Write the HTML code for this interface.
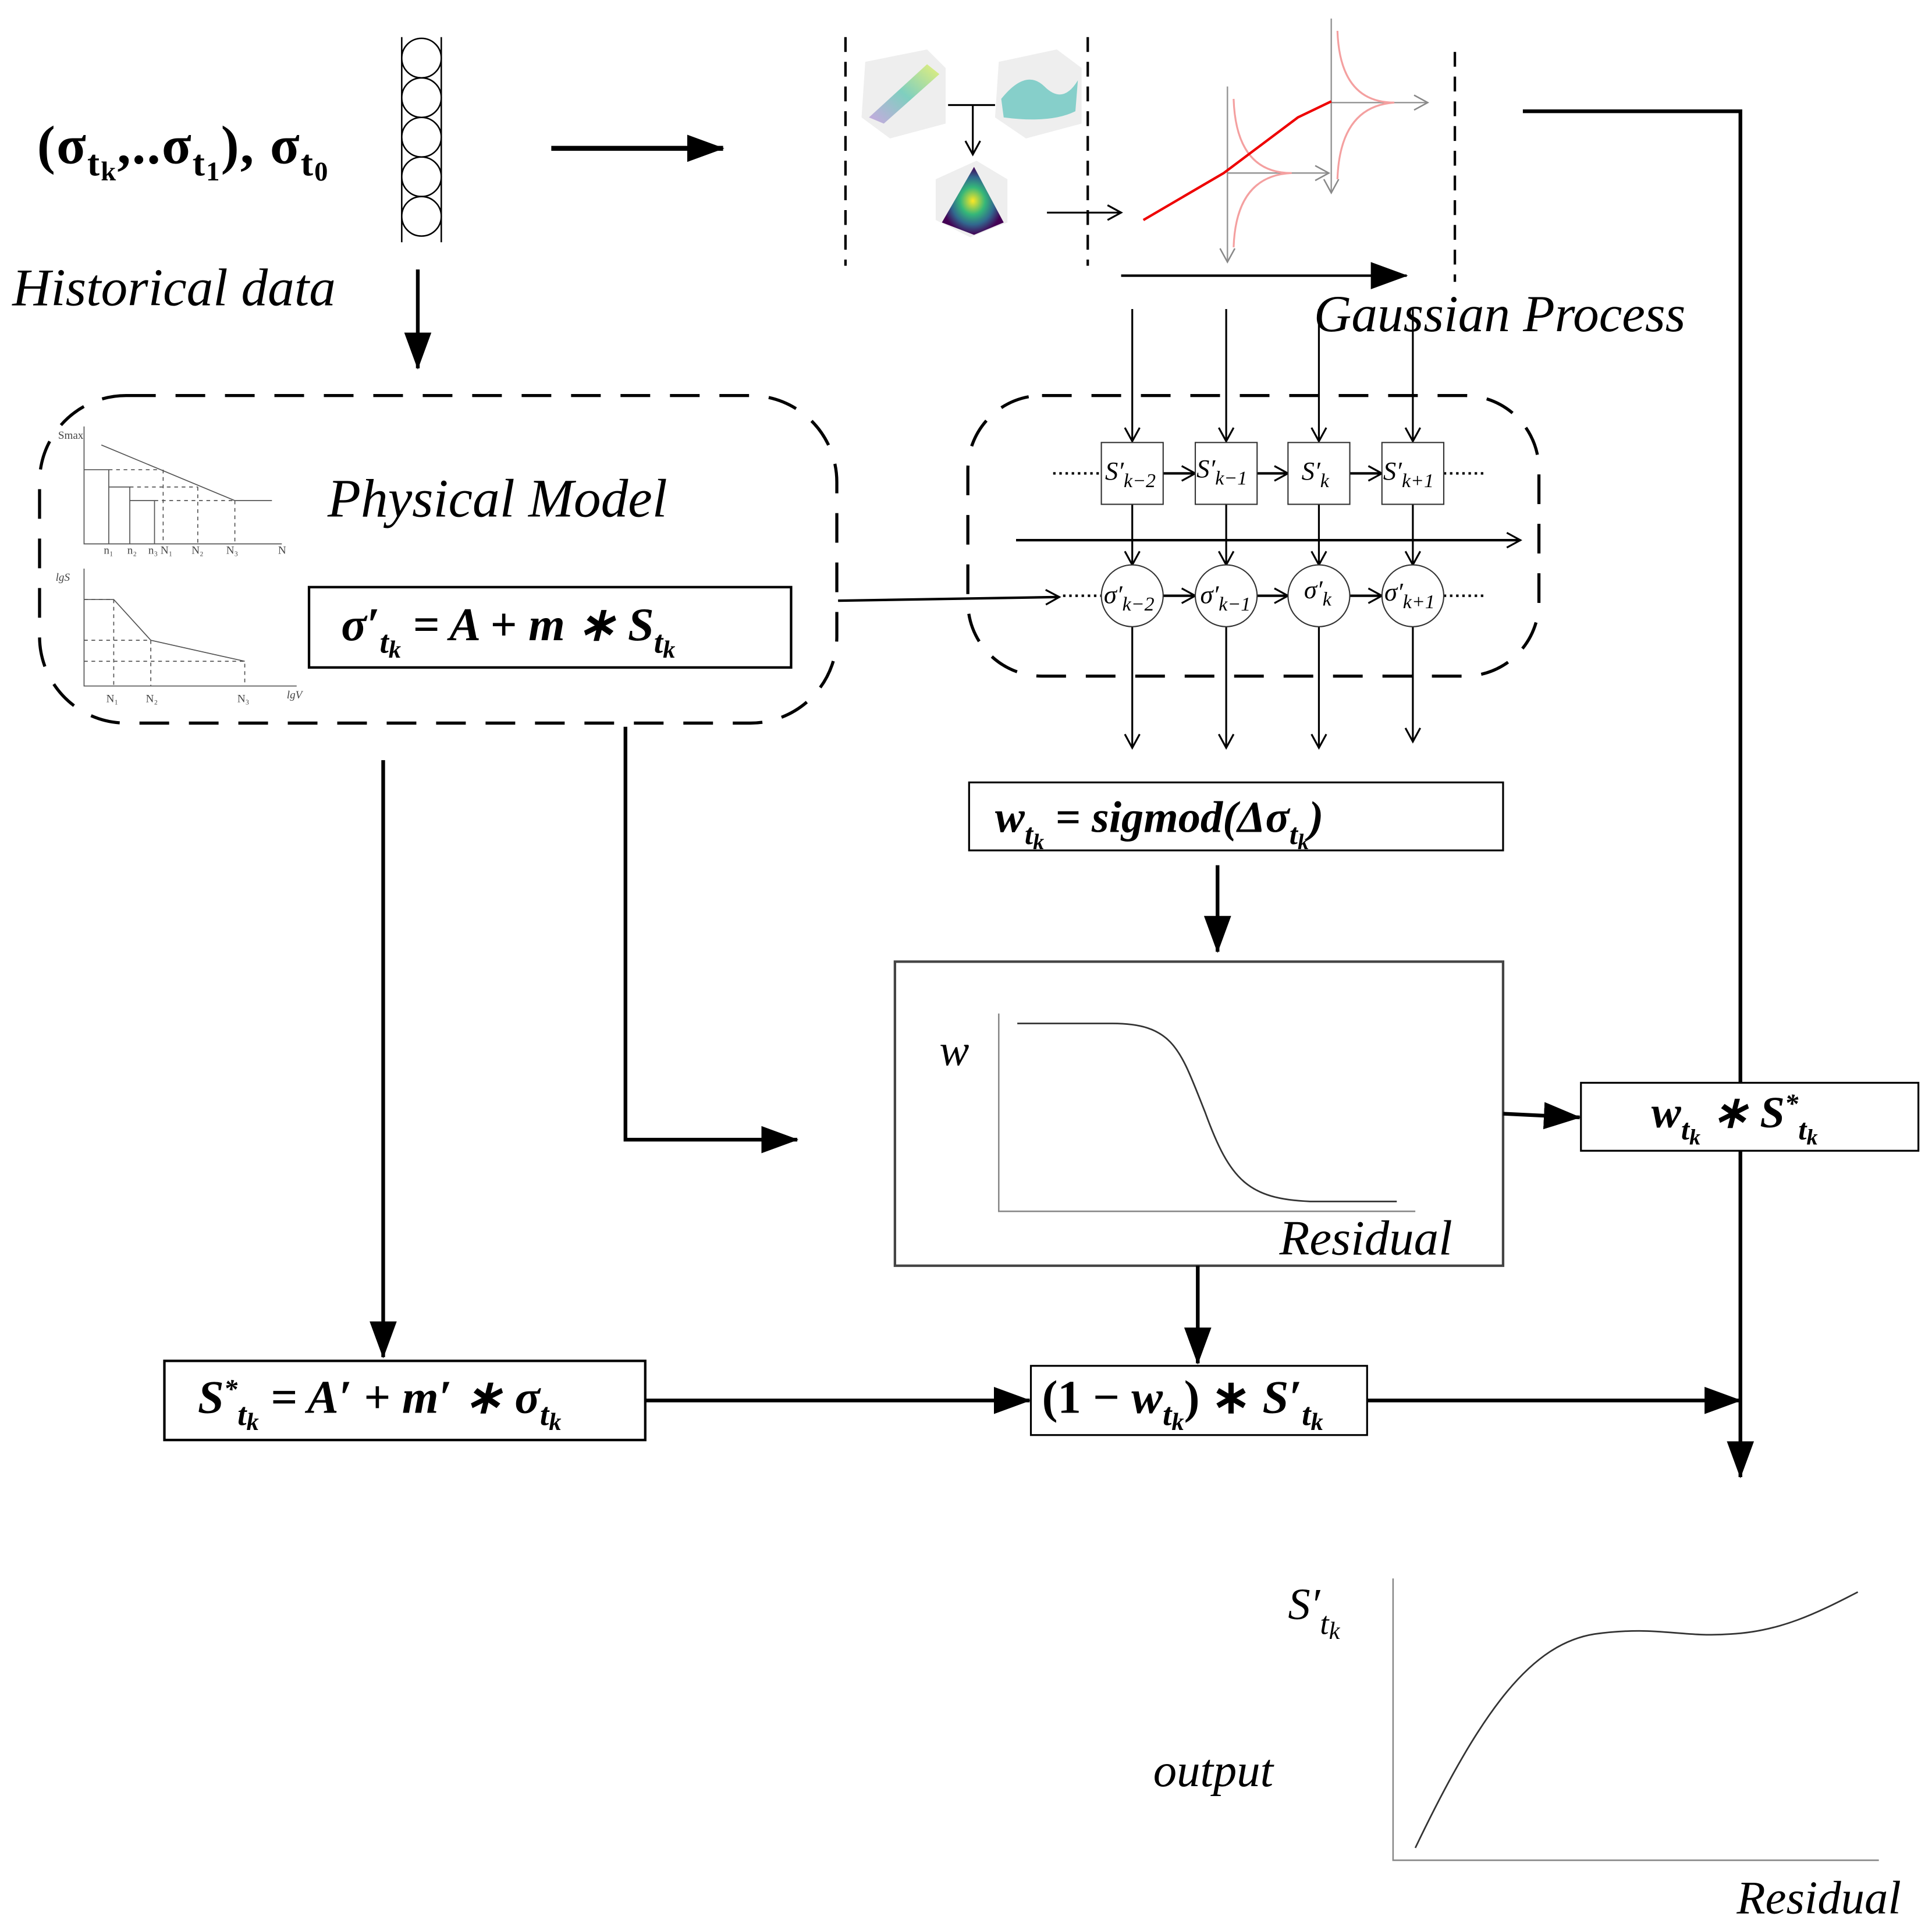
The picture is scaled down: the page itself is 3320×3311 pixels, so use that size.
<!DOCTYPE html>
<html><head><meta charset="utf-8"><style>
html,body{margin:0;padding:0;background:#fff}
svg{display:block}
text{font-family:"Liberation Serif",serif}
.b{font-weight:bold}
.bi{font-weight:bold;font-style:italic}
.i{font-style:italic}
</style></head><body>
<svg width="3320" height="3311" viewBox="0 0 1563 1559" preserveAspectRatio="none" xmlns="http://www.w3.org/2000/svg">
<defs>
<marker id="ah" markerWidth="10" markerHeight="10" refX="9" refY="5" orient="auto" markerUnits="userSpaceOnUse" viewBox="0 0 10 10"><path d="M0,0 L10,5 L0,10z" fill="#000"/></marker>
<marker id="ahb" markerWidth="30" markerHeight="22" refX="29" refY="11" orient="auto" markerUnits="userSpaceOnUse" viewBox="0 0 30 22"><path d="M0,0 L30,11 L0,22z" fill="#000"/></marker>
<marker id="ao" markerWidth="14" markerHeight="14" refX="12" refY="7" orient="auto" markerUnits="userSpaceOnUse" viewBox="0 0 14 14"><path d="M1,1 L12,7 L1,13" fill="none" stroke="#000" stroke-width="1.5"/></marker>
<marker id="aog" markerWidth="14" markerHeight="14" refX="12" refY="7" orient="auto" markerUnits="userSpaceOnUse" viewBox="0 0 14 14"><path d="M1,1 L12,7 L1,13" fill="none" stroke="#888" stroke-width="1.2"/></marker>
<linearGradient id="g1" x1="0" y1="1" x2="1" y2="0"><stop offset="0" stop-color="#c9a8e0"/><stop offset="0.5" stop-color="#7fcfbf"/><stop offset="1" stop-color="#e6f07a"/></linearGradient>
<radialGradient id="g2"><stop offset="0" stop-color="#fde725"/><stop offset="0.4" stop-color="#35b779"/><stop offset="0.7" stop-color="#31688e"/><stop offset="1" stop-color="#440154"/></radialGradient>
</defs>

<text x="30" y="132" class="b" font-size="44" letter-spacing="1">(σ<tspan font-size="30" dy="10">t</tspan><tspan font-size="22" dy="4">k</tspan><tspan dy="-14">,..σ</tspan><tspan font-size="30" dy="10">t</tspan><tspan font-size="22" dy="4">1</tspan><tspan dy="-14">),  σ</tspan><tspan font-size="30" dy="10">t</tspan><tspan font-size="22" dy="4">0</tspan></text>
<g fill="#fff" stroke="#000" stroke-width="1.2">
<line x1="325" y1="30" x2="325" y2="196"/><line x1="357" y1="30" x2="357" y2="196"/>
<circle cx="341" cy="47" r="16"/><circle cx="341" cy="79" r="16"/><circle cx="341" cy="111" r="16"/><circle cx="341" cy="143" r="16"/><circle cx="341" cy="175" r="16"/>
</g>
<text x="10" y="247" class="i" font-size="43">Historical data</text>
<line x1="338" y1="218" x2="338" y2="298" stroke="#000" stroke-width="3" marker-end="url(#ahb)"/>
<line x1="446" y1="120" x2="585" y2="120" stroke="#000" stroke-width="4" marker-end="url(#ahb)"/>

<g stroke="#000" stroke-width="2" stroke-dasharray="12,8">
<line x1="684" y1="30" x2="684" y2="215"/><line x1="880" y1="30" x2="880" y2="215"/><line x1="1177" y1="42" x2="1177" y2="228"/>
</g>
<polygon points="700,50 750,40 765,55 765,100 720,112 697,95" fill="#eee"/>
<polygon points="703,95 750,52 760,60 715,100" fill="url(#g1)"/>
<polygon points="808,50 855,40 875,55 875,100 830,112 805,95" fill="#eee"/>
<path d="M810,80 Q830,55 845,70 Q860,85 872,65 L870,90 Q850,100 812,95z" fill="#6cc7c0" opacity="0.8"/>
<polygon points="757,145 790,130 815,145 815,180 785,192 757,178" fill="#eee"/>
<path d="M762,180 L788,135 L812,180 L788,190z" fill="url(#g2)"/>
<path d="M767,85 L805,85 M787,85 L787,125" stroke="#000" stroke-width="1.5" fill="none" marker-end="url(#ao)"/>
<line x1="847" y1="172" x2="907" y2="172" stroke="#000" stroke-width="1.5" marker-end="url(#ao)"/>
<line x1="993" y1="70" x2="993" y2="212" stroke="#999" stroke-width="1.2" marker-end="url(#aog)"/>
<line x1="1077" y1="15" x2="1077" y2="156" stroke="#999" stroke-width="1.2" marker-end="url(#aog)"/>
<line x1="993" y1="140" x2="1075" y2="140" stroke="#999" stroke-width="1.2" marker-end="url(#aog)"/>
<line x1="1077" y1="83" x2="1155" y2="83" stroke="#999" stroke-width="1.2" marker-end="url(#aog)"/>
<path d="M998,80 Q1000,140 1045,140 Q1000,142 998,200" stroke="#f4a0a0" fill="none" stroke-width="1.5"/>
<path d="M1082,25 Q1084,83 1128,83 Q1084,86 1082,145" stroke="#f4a0a0" fill="none" stroke-width="1.5"/>
<path d="M925,178 L990,140 Q1030,110 1050,95 L1077,82" stroke="#e00" fill="none" stroke-width="2"/>
<line x1="907" y1="223" x2="1138" y2="223" stroke="#000" stroke-width="2" marker-end="url(#ahb)"/>
<text x="1063" y="268" class="i" font-size="42">Gaussian Process</text>
<path d="M1232,90 L1408,90 L1408,1195" stroke="#000" stroke-width="3" fill="none" marker-end="url(#ahb)"/>

<rect x="783" y="320" width="462" height="227" rx="60" fill="none" stroke="#000" stroke-width="2.5" stroke-dasharray="24,16"/>
<g stroke="#000" stroke-width="1.5" fill="none">
<line x1="916" y1="250" x2="916" y2="357" marker-end="url(#ao)"/>
<line x1="992" y1="250" x2="992" y2="357" marker-end="url(#ao)"/>
<line x1="1067" y1="250" x2="1067" y2="357" marker-end="url(#ao)"/>
<line x1="1143" y1="250" x2="1143" y2="357" marker-end="url(#ao)"/>
<line x1="916" y1="408" x2="916" y2="457" marker-end="url(#ao)"/>
<line x1="992" y1="408" x2="992" y2="457" marker-end="url(#ao)"/>
<line x1="1067" y1="408" x2="1067" y2="457" marker-end="url(#ao)"/>
<line x1="1143" y1="408" x2="1143" y2="457" marker-end="url(#ao)"/>
<line x1="916" y1="507" x2="916" y2="605" marker-end="url(#ao)"/>
<line x1="992" y1="507" x2="992" y2="605" marker-end="url(#ao)"/>
<line x1="1067" y1="507" x2="1067" y2="605" marker-end="url(#ao)"/>
<line x1="1143" y1="507" x2="1143" y2="600" marker-end="url(#ao)"/>
<line x1="822" y1="437" x2="1230" y2="437" stroke-width="2" marker-end="url(#ao)"/>
<line x1="941" y1="383" x2="967" y2="383" stroke-width="2" marker-end="url(#ao)"/>
<line x1="1017" y1="383" x2="1042" y2="383" stroke-width="2" marker-end="url(#ao)"/>
<line x1="1092" y1="383" x2="1118" y2="383" stroke-width="2" marker-end="url(#ao)"/>
<line x1="941" y1="482" x2="967" y2="482" stroke-width="2" marker-end="url(#ao)"/>
<line x1="1017" y1="482" x2="1042" y2="482" stroke-width="2" marker-end="url(#ao)"/>
<line x1="1092" y1="482" x2="1118" y2="482" stroke-width="2" marker-end="url(#ao)"/>
<line x1="678" y1="486" x2="857" y2="483" stroke-width="2" marker-end="url(#ao)"/>
<g stroke-dasharray="2,3" stroke-width="2">
<line x1="852" y1="383" x2="891" y2="383"/><line x1="1168" y1="383" x2="1203" y2="383"/>
<line x1="860" y1="482" x2="891" y2="482"/><line x1="1168" y1="482" x2="1203" y2="482"/>
</g>
</g>
<g fill="#fff" stroke="#333" stroke-width="1">
<rect x="891" y="358" width="50" height="50"/><rect x="967" y="358" width="50" height="50"/><rect x="1042" y="358" width="50" height="50"/><rect x="1118" y="358" width="50" height="50"/>
<ellipse cx="916" cy="482" rx="25" ry="25"/><ellipse cx="992" cy="482" rx="25" ry="25"/><ellipse cx="1067" cy="482" rx="25" ry="25"/><ellipse cx="1143" cy="482" rx="25" ry="25"/>
</g>
<g font-size="21">
<text x="894" y="388" class="i">S′<tspan font-size="16" dy="6">k−2</tspan></text>
<text x="968" y="386" class="i">S′<tspan font-size="16" dy="6">k−1</tspan></text>
<text x="1053" y="388" class="i">S′<tspan font-size="16" dy="6">k</tspan></text>
<text x="1119" y="388" class="i">S′<tspan font-size="16" dy="6">k+1</tspan></text>
<text x="893" y="488" class="i">σ′<tspan font-size="16" dy="6">k−2</tspan></text>
<text x="971" y="488" class="i">σ′<tspan font-size="16" dy="6">k−1</tspan></text>
<text x="1055" y="484" class="i">σ′<tspan font-size="16" dy="6">k</tspan></text>
<text x="1120" y="486" class="i">σ′<tspan font-size="16" dy="6">k+1</tspan></text>
</g>

<rect x="32" y="320" width="645" height="265" rx="70" fill="none" stroke="#000" stroke-width="2.5" stroke-dasharray="24,16"/>
<g stroke="#555" stroke-width="0.8" fill="none">
<path d="M68,345 L68,440 L228,440"/>
<path d="M82,360 L190,405 L220,405"/>
<path d="M68,380 L88,380 L88,440 M88,394 L105,394 L105,440 M105,405 L125,405 L125,440"/>
<path d="M88,380 L130,380 M105,394 L160,394 M125,405 L190,405 M132,380 L132,440 M160,394 L160,440 M190,405 L190,440" stroke-dasharray="3,3"/>
<path d="M68,460 L68,555 L240,555"/>
<path d="M68,485 L92,485 L122,518 L198,535"/>
<path d="M68,485 L92,485 L92,555 M68,518 L122,518 L122,555 M68,535 L198,535 L198,555" stroke-dasharray="3,3"/>
</g>
<g font-size="9" fill="#444" font-family="Liberation Serif">
<text x="47" y="355">Smax</text><text x="84" y="448">n₁</text><text x="103" y="448">n₂</text><text x="120" y="448">n₃ N₁</text><text x="155" y="448">N₂</text><text x="183" y="448">N₃</text><text x="225" y="448">N</text>
<text x="45" y="470" font-style="italic">lgS</text><text x="86" y="568">N₁</text><text x="118" y="568">N₂</text><text x="192" y="568">N₃</text><text x="232" y="565" font-style="italic">lgV</text>
</g>
<text x="265" y="418" class="i" font-size="44">Physical Model</text>
<rect x="250" y="475" width="390" height="65" fill="#fff" stroke="#000" stroke-width="2"/>
<text x="276" y="518" class="bi" font-size="38">σ′<tspan font-size="26" dy="10">t</tspan><tspan font-size="20" dy="4">k</tspan><tspan dy="-14"> = A + m ∗ S</tspan><tspan font-size="26" dy="10">t</tspan><tspan font-size="20" dy="4">k</tspan></text>

<line x1="310" y1="615" x2="310" y2="1098" stroke="#000" stroke-width="3" marker-end="url(#ahb)"/>
<path d="M506,588 L506,922 L645,922" stroke="#000" stroke-width="3" fill="none" marker-end="url(#ahb)"/>
<rect x="784" y="633" width="432" height="55" fill="#fff" stroke="#000" stroke-width="1.5"/>
<text x="805" y="673" class="bi" font-size="36">w<tspan font-size="24" dy="10">t</tspan><tspan font-size="18" dy="4">k</tspan><tspan dy="-14"> = sigmod(Δσ</tspan><tspan font-size="24" dy="10">t</tspan><tspan font-size="18" dy="4">k</tspan><tspan dy="-14">)</tspan></text>
<line x1="985" y1="700" x2="985" y2="770" stroke="#000" stroke-width="3" marker-end="url(#ahb)"/>
<rect x="724" y="778" width="492" height="246" fill="#fff" stroke="#444" stroke-width="2"/>
<path d="M808,820 L808,980 L1145,980" stroke="#888" stroke-width="1.2" fill="none"/>
<path d="M823,828 L900,828 C950,828 955,850 975,900 C995,955 1010,970 1060,972 L1130,972" stroke="#333" stroke-width="1.3" fill="none"/>
<text x="760" y="862" class="i" font-size="36">w</text>
<text x="1035" y="1015" class="i" font-size="40">Residual</text>
<line x1="1216" y1="901" x2="1278" y2="904" stroke="#000" stroke-width="3" marker-end="url(#ahb)"/>
<rect x="1279" y="876" width="273" height="55" fill="#fff" stroke="#000" stroke-width="1.5"/>
<text x="1336" y="912" class="bi" font-size="36">w<tspan font-size="24" dy="10">t</tspan><tspan font-size="18" dy="4">k</tspan><tspan dy="-14"> ∗ S</tspan><tspan font-size="22" dy="-12">*</tspan><tspan font-size="24" dy="22">t</tspan><tspan font-size="18" dy="4">k</tspan></text>
<line x1="969" y1="1024" x2="969" y2="1103" stroke="#000" stroke-width="3" marker-end="url(#ahb)"/>
<rect x="133" y="1101" width="389" height="64" fill="#fff" stroke="#000" stroke-width="2"/>
<text x="160" y="1143" class="bi" font-size="38">S<tspan font-size="22" dy="-12">*</tspan><tspan font-size="26" dy="22">t</tspan><tspan font-size="20" dy="4">k</tspan><tspan dy="-14"> = A′ + m′ ∗ σ</tspan><tspan font-size="26" dy="10">t</tspan><tspan font-size="20" dy="4">k</tspan></text>
<line x1="522" y1="1133" x2="833" y2="1133" stroke="#000" stroke-width="3" marker-end="url(#ahb)"/>
<rect x="834" y="1105" width="272" height="56" fill="#fff" stroke="#000" stroke-width="1.5"/>
<text x="843" y="1143" class="b" font-size="38">(1 − <tspan class="bi">w</tspan><tspan font-size="26" dy="10" class="bi">t</tspan><tspan font-size="20" dy="4" class="bi">k</tspan><tspan dy="-14">) ∗ </tspan><tspan class="bi">S′</tspan><tspan font-size="26" dy="10" class="bi">t</tspan><tspan font-size="20" dy="4" class="bi">k</tspan></text>
<line x1="1106" y1="1133" x2="1408" y2="1133" stroke="#000" stroke-width="3" marker-end="url(#ahb)"/>

<path d="M1127,1277 L1127,1505 L1520,1505" stroke="#888" stroke-width="1.2" fill="none"/>
<path d="M1145,1495 C1200,1380 1240,1330 1290,1322 C1340,1315 1360,1325 1400,1322 C1440,1320 1470,1305 1503,1288" stroke="#333" stroke-width="1.3" fill="none"/>
<text x="1042" y="1310" class="i" font-size="36">S′<tspan font-size="26" dy="12">t</tspan><tspan font-size="20" dy="4">k</tspan></text>
<text x="933" y="1445" class="i" font-size="38">output</text>
<text x="1405" y="1548" class="i" font-size="38">Residual</text>
</svg>
</body></html>
